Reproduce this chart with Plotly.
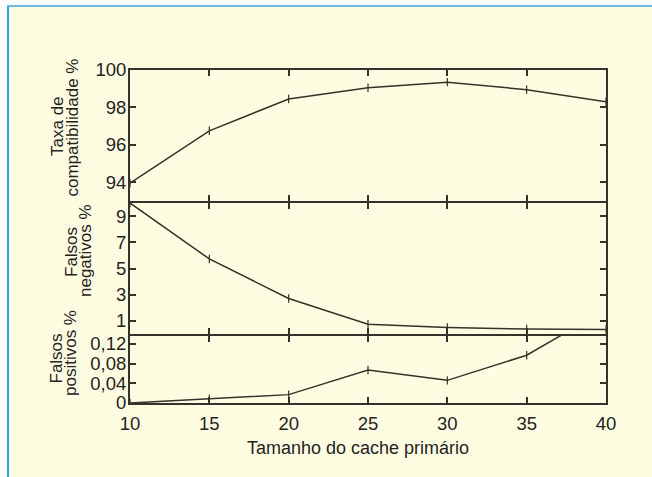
import plotly.graph_objects as go

# Tamanho do cache primário vs. métricas de compatibilidade
cache_size = [10, 15, 20, 25, 30, 35, 40]
taxa_compat = [93.95, 96.75, 98.45, 99.05, 99.35, 98.95, 98.3]
falsos_neg = [10.0, 5.73, 2.71, 0.75, 0.5, 0.38, 0.35]
falsos_pos = [0.0, 0.008, 0.017, 0.067, 0.046, 0.097, 0.19]

x_ticks = [10, 15, 20, 25, 30, 35, 40]
taxa_ticks = [94, 96, 98, 100]
neg_ticks = [1, 3, 5, 7, 9]
pos_ticks = [0, 0.04, 0.08, 0.12]
pos_ticktext = ["0", "0,04", "0,08", "0,12"]

W, H = 652, 477
ML, MR, MT, MB = 130, 46, 70, 74
PW, PH = W - ML - MR, H - MT - MB
LW = 2  # axis line width

BG = "#fffde1"
INK = "#34322a"
TXT = "#24231e"
FONT = "Liberation Sans, Arial, sans-serif"


def px(xp):
    return (xp - ML) / PW


def py(yp):
    return (H - MB - yp) / PH


fig = go.Figure()

series = [(taxa_compat, "x", "y"), (falsos_neg, "x2", "y2"), (falsos_pos, "x3", "y3")]
for vals, xa, ya in series:
    fig.add_trace(go.Scatter(
        x=cache_size, y=vals, xaxis=xa, yaxis=ya, mode="lines+markers",
        line=dict(color=INK, width=1.5),
        marker=dict(symbol="line-ns", size=6, line=dict(color=INK, width=1.2)),
        showlegend=False, hoverinfo="skip",
    ))

# panel boundaries in pixels; neighbouring domains overlap by the line width
# so the shared border is drawn as one single rule
top_b, mid_b = 202, 335
half = LW / 2
d_top = [py(top_b - half), 1]
d_mid = [py(mid_b - half), py(top_b + half)]
d_bot = [0, py(mid_b + half)]

axis_common = dict(
    showline=True, linecolor=INK, linewidth=LW, mirror="ticks",
    ticks="inside", ticklen=6, tickwidth=1.5, tickcolor=INK,
    showgrid=False, zeroline=False,
    tickfont=dict(family=FONT, size=18.5, color=TXT),
)

xa = dict(range=[10, 40], tickvals=x_ticks, **axis_common)
ya_extra = dict(ticklabelstandoff=-2)

fig.update_layout(
    width=W, height=H,
    margin=dict(l=ML, r=MR, t=MT, b=MB, pad=0),
    paper_bgcolor="white", plot_bgcolor=BG,
    font=dict(family=FONT, color=TXT),
    xaxis=dict(domain=[0, 1], anchor="y", showticklabels=False, **xa),
    xaxis2=dict(domain=[0, 1], anchor="y2", showticklabels=False, matches="x", **xa),
    xaxis3=dict(domain=[0, 1], anchor="y3", showticklabels=True, matches="x",
                ticklabelstandoff=3, **xa),
    yaxis=dict(domain=d_top, anchor="x", range=[93, 100], tickvals=taxa_ticks,
               **ya_extra, **axis_common),
    yaxis2=dict(domain=d_mid, anchor="x2", range=[0, 10], tickvals=neg_ticks,
                **ya_extra, **axis_common),
    yaxis3=dict(domain=d_bot, anchor="x3", range=[0, 0.136], tickvals=pos_ticks,
                ticktext=pos_ticktext, **ya_extra, **axis_common),
)

# page frame: pale yellow panel with a blue rule on the left and top
fig.add_shape(type="rect", xref="paper", yref="paper", layer="below",
              x0=px(8), x1=px(W + 2), y0=py(6), y1=py(H + 2),
              fillcolor=BG, line=dict(width=0))
fig.add_shape(type="line", xref="paper", yref="paper",
              x0=px(8), x1=px(8), y0=py(5.5), y1=py(H + 2),
              line=dict(color="#2aa2dc", width=2))
fig.add_shape(type="line", xref="paper", yref="paper",
              x0=px(7), x1=px(W + 2), y0=py(6), y1=py(6),
              line=dict(color="#6db9e2", width=2))

title_font = dict(family=FONT, size=17, color=TXT)
y_titles = [
    ("Taxa de", 57, 126),
    ("compatibilidade %", 72.5, 128),
    ("Falsos", 71, 252),
    ("negativos %", 85, 251),
    ("Falsos", 55.5, 359),
    ("positivos %", 70, 353),
]
for text, cx, cy in y_titles:
    fig.add_annotation(text=text, xref="paper", yref="paper", x=px(cx), y=py(cy),
                       xanchor="center", yanchor="middle", textangle=-90,
                       showarrow=False, font=title_font)

fig.add_annotation(text="Tamanho do cache primário", xref="paper", yref="paper",
                   x=px(358), y=py(448), xanchor="center", yanchor="middle",
                   showarrow=False, font=dict(family=FONT, size=18, color=TXT))

fig.write_html("out.html")
